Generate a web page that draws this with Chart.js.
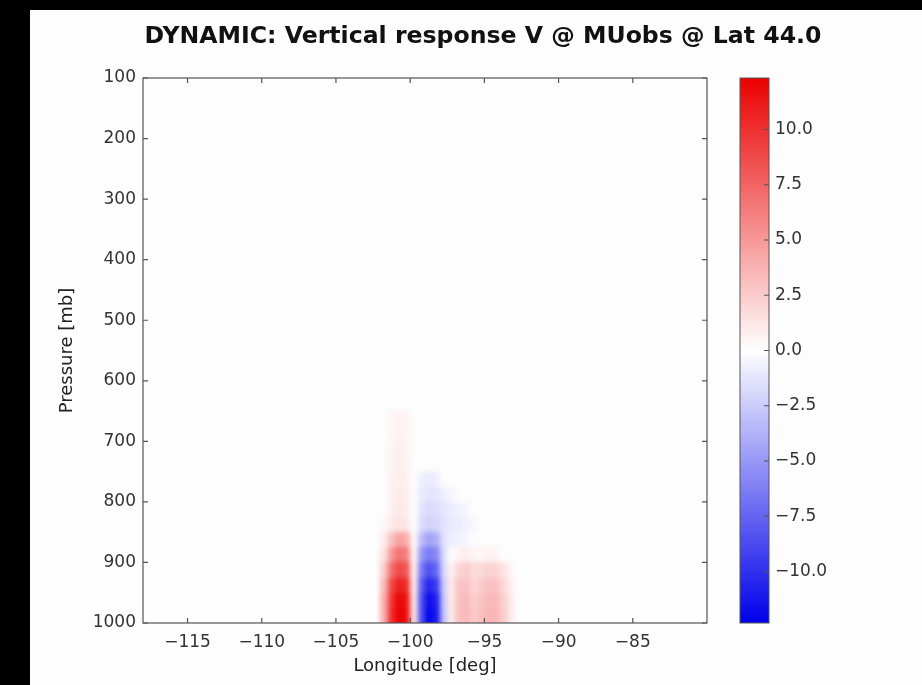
<!DOCTYPE html>
<html><head><meta charset="utf-8">
<script src="https://cdn.jsdelivr.net/npm/chart.js@4/dist/chart.umd.min.js"></script>
<style>
html,body{margin:0;padding:0;background:#000;width:922px;height:685px;overflow:hidden}
#wrap{position:absolute;left:30px;top:10px;width:892px;height:675px;background:#fdfdfd}
canvas{display:block}
</style></head><body>
<div id="wrap"><canvas id="c" width="892" height="675" style="width:892px;height:675px"></canvas></div>
<script>
const chartTitle = 'DYNAMIC: Vertical response V @ MUobs @ Lat 44.0';
const xTitle = 'Longitude [deg]';
const yTitle = 'Pressure [mb]';
// cell centres (longitude, deg) and (pressure, mb); cell widths
const longitudes = [-101.75,-101.25,-100.75,-100.25,-99.75,-99.25,-98.75,-98.25,-97.75,-97.25,-96.75,-96.25,-95.75,-95.25,-94.75,-94.25,-93.75,-93.25];
const lonStep = 0.5;
const pressures = [662.5,687.5,712.5,737.5,762.5,787.5,812.5,837.5,862.5,887.5,912.5,937.5,962.5,987.5];
const presStep = 25;
// response values (rows follow pressures, columns follow longitudes); elsewhere ~0
const values = [
 [0,0.5,0.7,0.6,0,0,0,0,0,0,0,0,0,0,0,0,0,0],
 [0,0.5,0.7,0.6,0,0,0,0,0,0,0,0,0,0,0,0,0,0],
 [0,0.6,0.8,0.6,0,0,0,0,0,0,0,0,0,0,0,0,0,0],
 [0,0.6,0.8,0.7,0,0,0,0,0,0,0,0,0,0,0,0,0,0],
 [0,0.7,0.9,0.7,0,-0.8,-1.0,-0.8,0,0,0,0,0,0,0,0,0,0],
 [0,0.7,1.0,0.8,0,-1.0,-1.3,-1.2,-0.8,-0.5,0,0,0,0,0,0,0,0],
 [0,0.8,1.1,0.9,0,-1.4,-1.8,-1.6,-1.2,-0.9,-0.7,-0.5,0,0,0,0,0,0],
 [0.4,1.0,1.4,1.2,0,-1.8,-2.2,-2.0,-1.4,-1.0,-0.9,-0.7,-0.4,0,0,0,0,0],
 [1.0,3.0,4.5,4.0,0.4,-3.2,-4.5,-4.0,-1.5,-0.8,-0.7,-0.5,0,0,0,0,0,0],
 [1.5,5.0,6.8,6.2,0.6,-5.0,-6.5,-5.8,-1.8,0,0.6,0.8,0.6,0.5,0.6,0.6,0,0],
 [2.5,7.0,8.8,8.2,0.8,-6.5,-8.5,-7.5,-2.0,0.8,2.0,2.4,1.8,1.8,2.2,2.2,1.4,0.5],
 [3.5,8.8,10.8,10.2,1.0,-7.8,-10.5,-9.5,-2.5,1.0,2.8,3.0,2.0,2.4,3.0,3.0,2.0,0.8],
 [4.0,9.8,12.0,11.3,1.2,-8.5,-11.8,-10.8,-2.8,1.0,3.0,3.4,2.4,2.8,3.4,3.4,2.4,1.0],
 [4.0,10.2,12.3,11.6,1.4,-8.5,-12.2,-11.2,-3.0,1.0,3.0,3.4,2.6,3.0,3.6,3.6,2.6,1.0]
];
const lonTicks = [-115,-110,-105,-100,-95,-90,-85];
const lonRange = [-118,-80];
const presTicks = [100,200,300,400,500,600,700,800,900,1000];
const presRange = [100,1000];
const cbTicks = [-10,-7.5,-5,-2.5,0,2.5,5,7.5,10];
const cbLimit = 12.33;

function bwr(v){
  let t = (v + cbLimit) / (2*cbLimit);
  t = Math.max(0, Math.min(1, t));
  let r,g,b;
  if (t < 0.5){ r = g = 2*t*255; b = 255 - (0.5 - t)*40; }
  else { r = 255 - (t - 0.5)*40; g = b = (2 - 2*t)*255; }
  return `rgb(${Math.round(r)},${Math.round(g)},${Math.round(b)})`;
}
const minus = v => (v < 0 ? '\u2212' + Math.abs(v) : String(v));
const tickFont = {family:'DejaVu Sans', size:17};
const tickColor = '#333';
const frameColor = '#555';

const heatPlugin = {
  id:'heat',
  beforeDatasetsDraw(chart){
    const {ctx, chartArea:a, scales:{x,y}} = chart;
    const off = document.createElement('canvas');
    off.width = chart.width; off.height = chart.height;
    const o = off.getContext('2d');
    values.forEach((row,i)=>{
      const p = pressures[i];
      const y0 = Math.round(y.getPixelForValue(p - presStep/2));
      let y1 = Math.round(y.getPixelForValue(p + presStep/2));
      if (p + presStep/2 >= presRange[1]) y1 += 8;
      row.forEach((v,j)=>{
        if (!v) return;
        const lon = longitudes[j];
        const x0 = Math.round(x.getPixelForValue(lon - lonStep/2));
        const x1 = Math.round(x.getPixelForValue(lon + lonStep/2));
        o.fillStyle = bwr(v);
        o.fillRect(x0, y0, x1 - x0, y1 - y0);
      });
    });
    ctx.save();
    ctx.beginPath(); ctx.rect(a.left,a.top,a.width,a.height); ctx.clip();
    ctx.filter = 'blur(2.5px)';
    ctx.drawImage(off, 0, 0);
    ctx.restore();
  },
  afterDraw(chart){
    const {ctx, chartArea:a, scales:{x,y,cb}} = chart;
    ctx.save();
    ctx.strokeStyle = frameColor; ctx.lineWidth = 1.2;
    ctx.strokeRect(a.left, a.top, a.width, a.height);
    ctx.beginPath();
    lonTicks.forEach(v=>{
      const px = x.getPixelForValue(v);
      ctx.moveTo(px, a.bottom); ctx.lineTo(px, a.bottom - 5);
      ctx.moveTo(px, a.top); ctx.lineTo(px, a.top + 5);
    });
    presTicks.forEach(v=>{
      const py = y.getPixelForValue(v);
      ctx.moveTo(a.left, py); ctx.lineTo(a.left + 5, py);
      ctx.moveTo(a.right, py); ctx.lineTo(a.right - 5, py);
    });
    ctx.stroke();
    // colorbar
    const cx0 = a.right + 33, cw = 29;
    const cTop = cb.getPixelForValue(cbLimit), cBot = cb.getPixelForValue(-cbLimit);
    const grad = ctx.createLinearGradient(0, cBot, 0, cTop);
    for (let k=0;k<=40;k++){
      const v = -cbLimit + 2*cbLimit*k/40;
      grad.addColorStop(k/40, bwr(v));
    }
    ctx.fillStyle = grad;
    ctx.fillRect(cx0, cTop, cw, cBot - cTop);
    ctx.strokeStyle = frameColor; ctx.lineWidth = 1;
    ctx.strokeRect(cx0, cTop, cw, cBot - cTop);
    ctx.beginPath();
    cbTicks.forEach(v=>{
      const py = cb.getPixelForValue(v);
      ctx.moveTo(cx0 + cw, py); ctx.lineTo(cx0 + cw - 5, py);
    });
    ctx.stroke();
    ctx.restore();
  }
};

new Chart(document.getElementById('c'), {
  type:'scatter',
  data:{datasets:[{data:[], pointRadius:0}]},
  plugins:[heatPlugin],
  options:{
    responsive:false, animation:false, devicePixelRatio:1,
    layout:{autoPadding:false, padding:{left:14,right:0,top:0,bottom:0}},
    plugins:{
      legend:{display:false}, tooltip:{enabled:false},
      title:{display:true, text:chartTitle, color:'#111',
        font:{family:'DejaVu Sans', size:23.6, weight:'bold'},
        padding:{top:12.8,bottom:26.9}}
    },
    scales:{
      x:{type:'linear', min:lonRange[0], max:lonRange[1],
        afterBuildTicks:s=>{s.ticks = lonTicks.map(v=>({value:v}));},
        afterFit:s=>{s.height = 62;},
        ticks:{font:tickFont, color:tickColor, padding:9, autoSkip:false, maxRotation:0, callback:v=>minus(v)},
        grid:{display:false, drawTicks:false}, border:{display:false},
        title:{display:true, text:xTitle, color:'#222', font:{family:'DejaVu Sans', size:18}, padding:{top:0,bottom:8}}
      },
      y:{type:'linear', reverse:true, min:presRange[0], max:presRange[1],
        afterBuildTicks:s=>{s.ticks = presTicks.map(v=>({value:v}));},
        afterFit:s=>{s.width = 99;},
        ticks:{font:tickFont, color:tickColor, padding:7, autoSkip:false, callback:v=>String(v)},
        grid:{display:false, drawTicks:false}, border:{display:false},
        title:{display:true, text:yTitle, color:'#222', font:{family:'DejaVu Sans', size:18}, padding:{top:13,bottom:0}}
      },
      cb:{type:'linear', position:'right', min:-cbLimit, max:cbLimit,
        afterBuildTicks:s=>{s.ticks = cbTicks.map(v=>({value:v}));},
        afterFit:s=>{s.width = 215;},
        ticks:{font:tickFont, color:tickColor, padding:2, autoSkip:false,
          callback:v=>(v < 0 ? '\u2212' + Math.abs(v).toFixed(1) : v.toFixed(1))},
        grid:{display:true, drawOnChartArea:false, drawTicks:true, tickLength:66, color:'rgba(0,0,0,0)'},
        border:{display:false}
      }
    }
  }
});
</script>
</body></html>
